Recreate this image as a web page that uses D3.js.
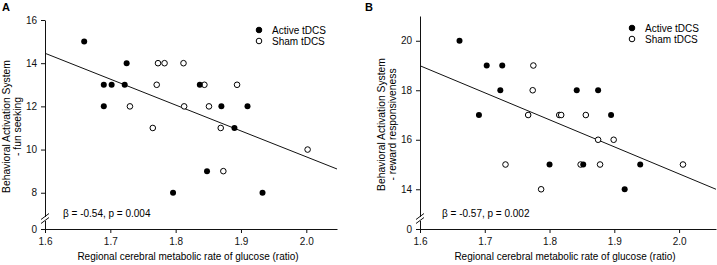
<!DOCTYPE html>
<html>
<head>
<meta charset="utf-8">
<script src="https://cdn.jsdelivr.net/npm/d3@7"></script>
<style>
  body { margin: 0; background: #fff; }
  svg { display: block; font-family: "Liberation Sans", Arial, sans-serif; }
  .axis text { font-size: 10px; fill: #111; font-family: "Liberation Sans", Arial, sans-serif; }
  .axis path, .axis line { stroke: #111; }
</style>
</head>
<body>
<svg id="chart"></svg>
<script>
// x ticks shared by both panels
const xTicks = [1.6, 1.7, 1.8, 1.9, 2.0];
const xTitle = 'Regional cerebral metabolic rate of glucose (ratio)';
const groups = ['Active tDCS', 'Sham tDCS'];

// Panel A - fun seeking
const aActiveX = [1.660, 1.690, 1.702, 1.722, 1.725, 1.690, 1.837, 1.870, 1.910, 1.890, 1.848, 1.796, 1.933];
const aActiveY = [15, 13, 13, 13, 14, 12, 13, 12, 12, 11, 9, 8, 8];
const aShamX = [1.773, 1.783, 1.812, 1.771, 1.844, 1.894, 1.730, 1.813, 1.851, 1.765, 1.869, 1.873, 2.002];
const aShamY = [14, 14, 14, 13, 13, 13, 12, 12, 12, 11, 11, 9, 10];
const aFitX = [1.6, 2.047];
const aFitY = [14.46, 9.10];
const aTicks = [8, 10, 12, 14, 16];

// Panel B - reward responsiveness
const bActiveX = [1.661, 1.703, 1.727, 1.724, 1.691, 1.842, 1.875, 1.895, 1.800, 1.852, 1.940, 1.916];
const bActiveY = [20, 19, 19, 18, 17, 18, 18, 17, 15, 15, 15, 14];
const bShamX = [1.775, 1.774, 1.767, 1.815, 1.818, 1.856, 1.875, 1.899, 1.732, 1.848, 1.878, 2.006, 1.787];
const bShamY = [19, 18, 17, 17, 17, 17, 16, 16, 15, 15, 15, 15, 14];
const bFitX = [1.6, 2.057];
const bFitY = [18.99, 14.0];
const bTicks = [14, 16, 18, 20];

class BreakScatter {

  constructor(_config) {
    this.config = _config;
    this.initVis();
  }

  initVis() {
    let vis = this;
    const c = vis.config;

    vis.g = d3.select('#chart').append('g');

    vis.xScale = d3.scaleLinear().domain(c.xDomain).range(c.xRange);
    vis.yScale = d3.scaleLinear().domain(c.yDomain).range([c.breakY, c.top]);
    // short segment below the break that only carries the 0 tick
    vis.zeroScale = d3.scaleLinear().domain([0, 0.4]).range([c.baseY, c.breakY + 4]);

    // x axis
    vis.g.append('g')
        .attr('class', 'axis')
        .attr('transform', `translate(0,${c.baseY})`)
        .call(d3.axisBottom(vis.xScale).tickValues(xTicks).tickFormat(d3.format('.1f'))
          .tickSize(4).tickSizeOuter(0).tickPadding(5));

    // y axis above the break
    vis.g.append('g')
        .attr('class', 'axis')
        .attr('transform', `translate(${c.xRange[0]},0)`)
        .call(d3.axisLeft(vis.yScale).tickValues(c.yTicks).tickSize(4).tickSizeOuter(0).tickPadding(4));

    // y axis below the break
    vis.g.append('g')
        .attr('class', 'axis')
        .attr('transform', `translate(${c.xRange[0]},0)`)
        .call(d3.axisLeft(vis.zeroScale).tickValues([0]).tickFormat(d3.format('d'))
          .tickSize(4).tickSizeOuter(0).tickPadding(4));

    // break marks
    const x0 = c.xRange[0];
    [c.breakY, c.breakY + 4].forEach(y => {
      vis.g.append('line')
          .attr('x1', x0 - 4).attr('y1', y + 3)
          .attr('x2', x0 + 4).attr('y2', y - 3)
          .attr('stroke', '#111');
    });

    // axis titles
    vis.g.append('text')
        .attr('x', (c.xRange[0] + c.xRange[1]) / 2 - 3)
        .attr('y', 260)
        .attr('text-anchor', 'middle')
        .style('font-size', '10px')
        .text(xTitle);

    const yt = vis.g.append('text')
        .attr('transform', `translate(${c.labelX},${(c.top + c.baseY) / 2 + 2}) rotate(-90)`)
        .attr('text-anchor', 'middle')
        .style('font-size', '10.3px');
    yt.append('tspan').attr('x', 0).attr('dy', 0).text('Behavioral Activation System');
    yt.append('tspan').attr('x', 0).attr('dy', '1.05em').text(c.subtitle);

    // panel letter
    vis.g.append('text')
        .attr('x', c.letterX).attr('y', 11)
        .style('font-size', '11px')
        .style('font-weight', 'bold')
        .text(c.letter);

    // stats
    vis.g.append('text')
        .attr('x', c.statX).attr('y', 217)
        .style('font-size', '10px')
        .text(c.stat);

    // legend
    groups.forEach((name, i) => {
      const ly = c.legendY + i * 11;
      vis.g.append('circle')
          .attr('cx', c.legendX).attr('cy', ly).attr('r', 2.8)
          .attr('fill', i === 0 ? '#000' : '#fff')
          .attr('stroke', '#000').attr('stroke-width', 1);
      vis.g.append('text')
          .attr('x', c.legendX + 13).attr('y', ly + 3.5)
          .style('font-size', '10px')
          .text(name);
    });

    vis.renderVis();
  }

  renderVis() {
    let vis = this;
    const c = vis.config;

    // regression line
    vis.g.append('line')
        .attr('x1', vis.xScale(c.fitX[0])).attr('y1', vis.yScale(c.fitY[0]))
        .attr('x2', vis.xScale(c.fitX[1])).attr('y2', vis.yScale(c.fitY[1]))
        .attr('stroke', '#111').attr('stroke-width', 1);

    const active = c.activeX.map((x, i) => ({ x: x, y: c.activeY[i] }));
    const sham = c.shamX.map((x, i) => ({ x: x, y: c.shamY[i] }));

    vis.g.selectAll('.sham')
        .data(sham)
      .join('circle')
        .attr('class', 'sham')
        .attr('r', 2.8)
        .attr('cx', d => vis.xScale(d.x))
        .attr('cy', d => vis.yScale(d.y))
        .attr('fill', '#fff')
        .attr('stroke', '#000');

    vis.g.selectAll('.active')
        .data(active)
      .join('circle')
        .attr('class', 'active')
        .attr('r', 3)
        .attr('cx', d => vis.xScale(d.x))
        .attr('cy', d => vis.yScale(d.y))
        .attr('fill', '#000');
  }
}

d3.select('#chart').attr('width', 717).attr('height', 265);

new BreakScatter({
  letter: 'A', letterX: 2, subtitle: '- fun seeking', labelX: 10,
  xDomain: [1.6, 2.047], xRange: [45, 337],
  yDomain: [6.9, 16], yTicks: aTicks, top: 20, breakY: 216.5, baseY: 229,
  activeX: aActiveX, activeY: aActiveY, shamX: aShamX, shamY: aShamY,
  fitX: aFitX, fitY: aFitY,
  stat: 'β = -0.54, p = 0.004', statX: 63,
  legendX: 259, legendY: 30
});

new BreakScatter({
  letter: 'B', letterX: 365, subtitle: '- reward responsiveness', labelX: 385,
  xDomain: [1.6, 2.057], xRange: [420, 716],
  yDomain: [12.9, 21], yTicks: bTicks, top: 16, breakY: 216.5, baseY: 229,
  activeX: bActiveX, activeY: bActiveY, shamX: bShamX, shamY: bShamY,
  fitX: bFitX, fitY: bFitY,
  stat: 'β = -0.57, p = 0.002', statX: 442,
  legendX: 632, legendY: 28
});
</script>
</body>
</html>
